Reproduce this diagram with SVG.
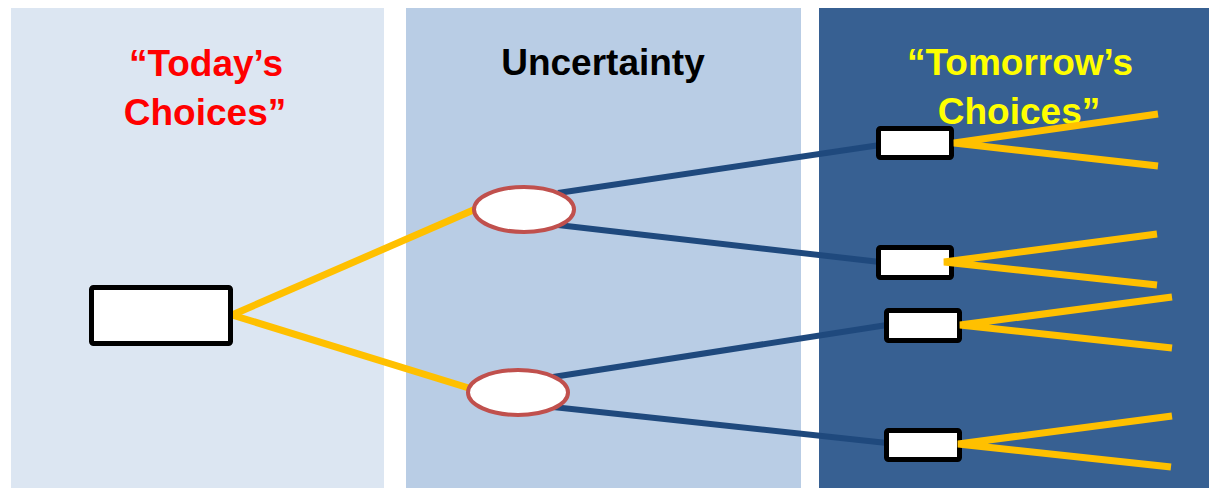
<svg xmlns="http://www.w3.org/2000/svg" width="1209" height="488" viewBox="0 0 1209 488">
<style>
.t{font-family:"Liberation Sans",Arial,sans-serif;font-weight:bold;font-size:37px;text-anchor:middle}
.y{stroke:#FFC000;stroke-width:7;fill:none}
.b{stroke:#1F497D;stroke-width:6;fill:none}
.box{fill:#FFFFFF;stroke:#000000;stroke-width:5}
.ell{fill:#FFFFFF;stroke:#C0504D;stroke-width:4}
</style>
<rect width="1209" height="488" fill="#FFFFFF"/>
<g id="panels">
<rect x="11" y="8" width="373" height="480" fill="#DCE6F2"/>
<rect x="406" y="8" width="395" height="480" fill="#B9CDE5"/>
<rect x="819" y="8" width="390" height="480" fill="#376092"/>
</g>
<g id="labels">
<text class="t" x="206" y="76" fill="#FF0000">“Today’s</text>
<text class="t" x="205" y="125" fill="#FF0000">Choices”</text>
<text class="t" x="603" y="75" fill="#000000">Uncertainty</text>
<text class="t" x="1020" y="75" fill="#FFFF00">“Tomorrow’s</text>
<text class="t" x="1019" y="124" fill="#FFFF00">Choices”</text>
</g>
<g id="connectors">
<line class="y" x1="232" y1="315" x2="478" y2="208"/>
<line class="y" x1="232" y1="315" x2="472" y2="389"/>
<line class="b" x1="558" y1="193" x2="880" y2="145"/>
<line class="b" x1="558" y1="225" x2="880" y2="262"/>
<line class="b" x1="553" y1="377" x2="887" y2="325"/>
<line class="b" x1="553" y1="407" x2="887" y2="443"/>
</g>
<g id="root"><rect class="box" x="91.5" y="287.5" width="139" height="56" rx="2"/></g>
<g id="chance1"><ellipse class="ell" cx="524" cy="209.5" rx="50" ry="22.5"/></g>
<g id="chance2"><ellipse class="ell" cx="518" cy="392.5" rx="50" ry="22.5"/></g>
<g id="choice1"><rect class="box" x="878.5" y="128.5" width="73" height="29" rx="2"/></g>
<g id="choice2"><rect class="box" x="878.5" y="247.5" width="73" height="30" rx="2"/></g>
<g id="choice3"><rect class="box" x="886.5" y="310.5" width="73" height="30" rx="2"/></g>
<g id="choice4"><rect class="box" x="886.5" y="430.5" width="73" height="29" rx="2"/></g>
<g id="fans">
<polyline class="y" points="1158,114 954,143 1158,166"/>
<polyline class="y" points="1157,234 944,262 1157,285"/>
<polyline class="y" points="1172,297 960,325 1172,348"/>
<polyline class="y" points="1172,416 958,444 1171,467"/>
</g>
</svg>
